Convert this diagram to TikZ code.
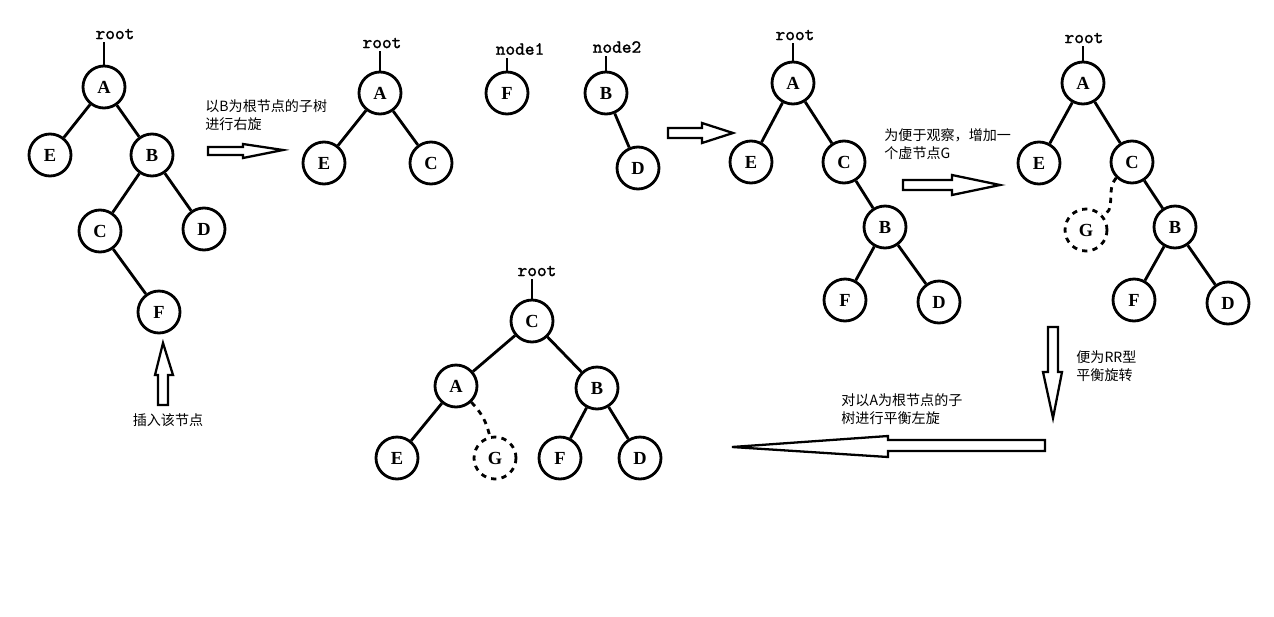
\documentclass[tikz,border=0pt]{standalone}
\usepackage{fontspec}
\usepackage{tikz}
\usetikzlibrary{positioning,calc}
\newfontfamily\cjk{Noto Sans CJK SC}
\newfontfamily\lbl{Liberation Serif}
\newfontfamily\mono[FakeBold=1.5]{Latin Modern Mono}

\begin{document}
\begin{tikzpicture}[
    x=0.02cm, y=-0.02cm,
    line width=1.6pt,
    n/.style={draw, circle, minimum size=0.84cm, inner sep=0pt, font=\lbl\bfseries\fontsize{10.5pt}{12pt}\selectfont},
    vn/.style={n, dashed, dash pattern=on 3pt off 3pt},
    rt/.style={font=\mono\fontsize{10.5pt}{12pt}\selectfont, inner sep=1pt},
    note/.style={font=\cjk\fontsize{8pt}{10.6pt}\selectfont, align=left, anchor=west, inner sep=0pt},
    blk/.style={line width=1.3pt, line join=miter, fill=white},
    dsh/.style={dashed, dash pattern=on 3pt off 3pt}
  ]
    \useasboundingbox (0,0) rectangle (1274,616);

    % tree 1: insert F
    \node[rt] (r1) at (115,34) {root};
    \node[n] (a1) at (104,87) {A};
    \node[n] (e1) at (50,155) {E};
    \node[n] (b1) at (152,155) {B};
    \node[n] (c1) at (100,231) {C};
    \node[n] (d1) at (204,229) {D};
    \node[n] (f1) at (159,312) {F};
    \draw (a1) -- (a1 |- r1.south);
    \draw (a1) -- (e1);
    \draw (a1) -- (b1);
    \draw (b1) -- (c1);
    \draw (b1) -- (d1);
    \draw (c1) -- (f1);
    \draw[blk] (163,343) -- (173,375) -- (168,375) -- (168,405) -- (158,405) -- (158,375) -- (155,375) -- cycle;
    \node[note, anchor=center] (ins) at (168,420) {插入该节点};

    % right rotation of subtree B
    \node[note] (t1) at (204,115) {以B为根节点的子树\\进行右旋};
    \draw[blk] (208,147) -- (243,147) -- (243,144) -- (283,150) -- (243,158) -- (243,155) -- (208,155) -- cycle;

    % tree 2: split into pieces
    \node[rt] (r2) at (382,43) {root};
    \node[n] (a2) at (380,93) {A};
    \node[n] (e2) at (324,163) {E};
    \node[n] (c2) at (431,163) {C};
    \draw (a2) -- (a2 |- r2.south);
    \draw (a2) -- (e2);
    \draw (a2) -- (c2);
    \node[rt] (nd1) at (520,49) {node1};
    \node[n] (f2) at (507,93) {F};
    \draw (f2) -- (f2 |- nd1.south);
    \node[rt] (nd2) at (617,47) {node2};
    \node[n] (b2) at (606,93) {B};
    \node[n] (d2) at (638,168) {D};
    \draw (b2) -- (b2 |- nd2.south);
    \draw (b2) -- (d2);
    \draw[blk] (668,128) -- (702,128) -- (702,123) -- (733,133) -- (702,143) -- (702,138) -- (668,138) -- cycle;

    % tree 3: after right rotation
    \node[rt] (r3) at (795,35) {root};
    \node[n] (a3) at (793,83) {A};
    \node[n] (e3) at (751,162) {E};
    \node[n] (c3) at (844,162) {C};
    \node[n] (b3) at (885,227) {B};
    \node[n] (f3) at (845,300) {F};
    \node[n] (d3) at (939,302) {D};
    \draw (a3) -- (a3 |- r3.south);
    \draw (a3) -- (e3);
    \draw (a3) -- (c3);
    \draw (c3) -- (b3);
    \draw (b3) -- (f3);
    \draw (b3) -- (d3);

    \node[note] (t2) at (883,144) {为便于观察，增加一\\个虚节点G};
    \draw[blk] (903,180) -- (952,180) -- (952,175) -- (1000,185) -- (952,195) -- (952,190) -- (903,190) -- cycle;

    % tree 4: virtual node G added
    \node[rt] (r4) at (1084,38) {root};
    \node[n] (a4) at (1083,83) {A};
    \node[n] (e4) at (1039,163) {E};
    \node[n] (c4) at (1132,162) {C};
    \node[vn] (g4) at (1086,230) {G};
    \node[n] (b4) at (1175,227) {B};
    \node[n] (f4) at (1134,300) {F};
    \node[n] (d4) at (1228,303) {D};
    \draw (a4) -- (a4 |- r4.south);
    \draw (a4) -- (e4);
    \draw (a4) -- (c4);
    \draw[dsh] (c4) to[out=225, in=0] (g4.north east);
    \draw (c4) -- (b4);
    \draw (b4) -- (f4);
    \draw (b4) -- (d4);

    \node[note] (t3) at (1075,366) {便为RR型\\平衡旋转};
    \draw[blk] (1048,327) -- (1058,327) -- (1058,372) -- (1062,372) -- (1053,418) -- (1043,372) -- (1048,372) -- cycle;

    % left rotation of subtree A
    \node[note] (t4) at (840,409) {对以A为根节点的子\\树进行平衡左旋};
    \draw[blk] (1045,440) -- (1045,451) -- (888,451) -- (888,457) -- (732,447) -- (888,436) -- (888,440) -- cycle;

    % tree 5: balanced
    \node[rt] (r5) at (537,271) {root};
    \node[n] (c5) at (532,321) {C};
    \node[n] (a5) at (456,386) {A};
    \node[n] (b5) at (597,388) {B};
    \node[n] (e5) at (397,458) {E};
    \node[vn] (g5) at (495,458) {G};
    \node[n] (f5) at (560,458) {F};
    \node[n] (d5) at (640,458) {D};
    \draw (c5) -- (c5 |- r5.south);
    \draw (c5) -- (a5);
    \draw (c5) -- (b5);
    \draw (a5) -- (e5);
    \draw[dsh] (a5) to[bend left=15] (g5);
    \draw (b5) -- (f5);
    \draw (b5) -- (d5);
  \end{tikzpicture}
\end{document}
